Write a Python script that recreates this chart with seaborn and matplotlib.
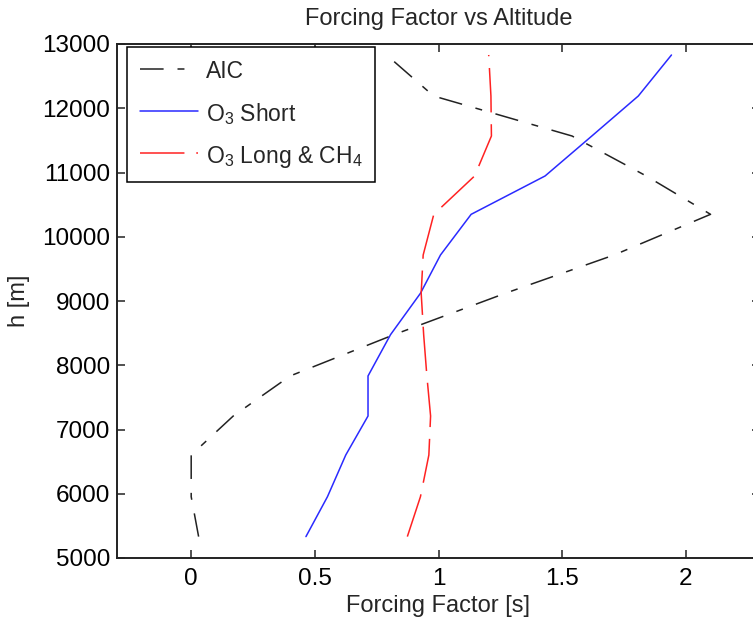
import matplotlib
matplotlib.use("Agg")
import matplotlib.pyplot as plt
import seaborn as sns
import pandas as pd

# Altitude levels [m] shared by all three profiles
altitude = [5333, 5954, 6603, 7210, 7833, 8476, 9120, 9716, 10349, 10946, 11568, 12191, 12829]

# Forcing factor profiles [s]
aic = [0.03, 0.00, 0.00, 0.17, 0.40, 0.82, 1.27, 1.71, 2.10, 1.84, 1.54, 0.98, 0.79]
o3_short = [0.464, 0.551, 0.625, 0.715, 0.715, 0.806, 0.927, 1.008, 1.132, 1.431, 1.62, 1.808, 1.942]
o3_long_ch4 = [0.874, 0.927, 0.961, 0.968, 0.953, 0.940, 0.930, 0.938, 0.981, 1.146, 1.214, 1.212, 1.203]

labels = ["AIC", r"O$_3$ Short", r"O$_3$ Long & CH$_4$"]
xticks = [0, 0.5, 1, 1.5, 2]
yticks = [5000, 6000, 7000, 8000, 9000, 10000, 11000, 12000, 13000]

sns.set_style("ticks")
plt.rcParams["font.family"] = ["Liberation Sans", "DejaVu Sans"]
plt.rcParams["mathtext.fontset"] = "custom"
plt.rcParams["mathtext.rm"] = "Liberation Sans"
plt.rcParams["mathtext.it"] = "Liberation Sans"
plt.rcParams["lines.scale_dashes"] = False

fig = plt.figure(figsize=(7.53, 6.22), dpi=100)
ax = fig.add_axes([117 / 753, 64 / 622, 643 / 753, 514 / 622])

styles = [
    dict(color="#222222", linestyle=(0, (17, 10, 5, 10))),
    dict(color="#2a2aff", linestyle="-"),
    dict(color="#ff2222", linestyle=(0, (32, 8.5))),
]
for values, label, st in zip([aic, o3_short, o3_long_ch4], labels, styles):
    df = pd.DataFrame({"Forcing Factor [s]": values, "h [m]": altitude})
    sns.lineplot(data=df, x="Forcing Factor [s]", y="h [m]", sort=False,
                 estimator=None, ax=ax, label=label, linewidth=1.1, **st)

ax.set_xlim(-0.3, 2.3)
ax.set_ylim(5000, 13000)
ax.set_xticks(xticks)
ax.set_xticklabels(["0", "0.5", "1", "1.5", "2"])
ax.set_yticks(yticks)
ax.tick_params(direction="in", length=6, width=1.2, top=True, right=True,
               labelsize=17.5, colors="#333333", labelcolor="black")
ax.tick_params(axis="x", pad=7)
ax.tick_params(axis="y", pad=5)
for s in ax.spines.values():
    s.set_visible(True)
    s.set_linewidth(1.4)
    s.set_color("#222222")

ax.set_title("Forcing Factor vs Altitude", fontsize=17, pad=14)
ax.set_xlabel("Forcing Factor [s]", fontsize=17)
ax.set_ylabel("h [m]", fontsize=17)
ax.xaxis.set_label_coords(0.5, -0.072)
ax.yaxis.set_label_coords(-0.135, 0.5)

leg = ax.legend(loc="upper left", bbox_to_anchor=(0.0156, 0.994), borderaxespad=0,
                fontsize=16.5, frameon=True, fancybox=False, edgecolor="black",
                framealpha=1, handlelength=2.55, handletextpad=0.35,
                borderpad=0.55, labelspacing=0.75, handleheight=1.1)
leg.get_frame().set_linewidth(1.1)

fig.savefig("out.png", dpi=100)
